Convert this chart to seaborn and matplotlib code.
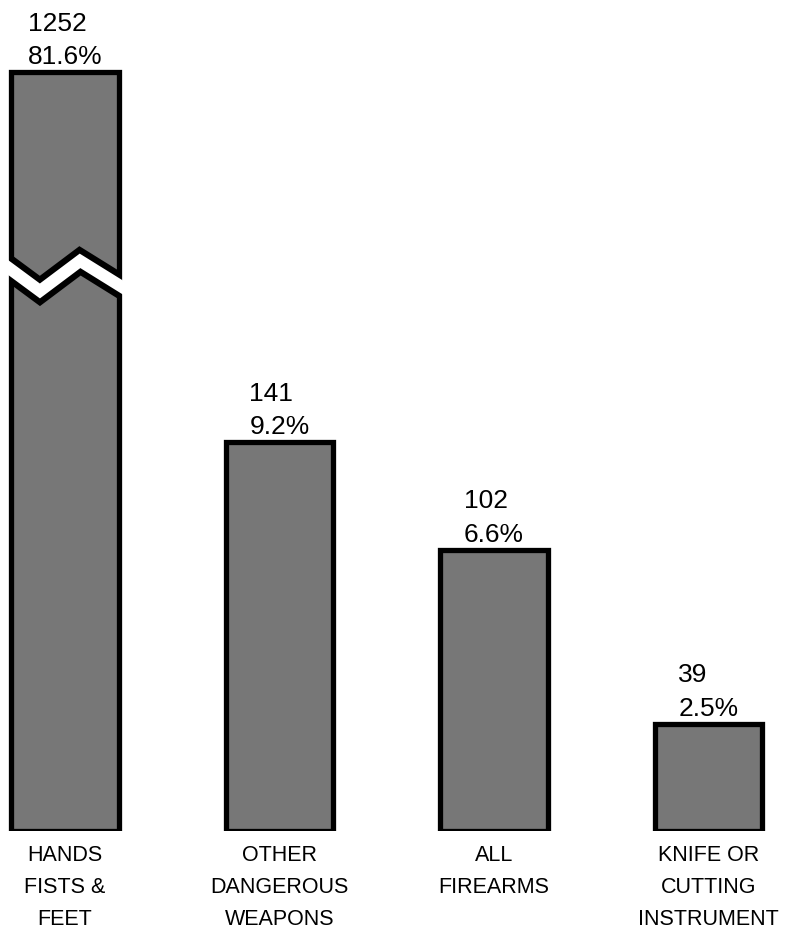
import pandas as pd
import matplotlib.pyplot as plt
from matplotlib.lines import Line2D
import seaborn as sns

sns.set_theme(style='white')
plt.rcParams['font.family'] = ['Liberation Sans', 'DejaVu Sans']

weapons = ["HANDS\nFISTS &\nFEET", "OTHER\nDANGEROUS\nWEAPONS",
           "ALL\nFIREARMS", "KNIFE OR\nCUTTING\nINSTRUMENT"]
counts = [1252, 141, 102, 39]
percents = [81.6, 9.2, 6.6, 2.5]

df = pd.DataFrame({"weapon": weapons, "count": counts})

GREY = '#777777'
LOW_MAX = 204      # top of the lower panel
HIGH_MIN = 1181    # bottom of the upper panel (broken axis)

fig = plt.figure(figsize=(8.1, 9.31), dpi=100)
low_pos = [0, 0.1069, 1, 0.6052]
high_pos = [0, 0.7121, 1, 0.2449]
low = fig.add_axes(low_pos)
high = fig.add_axes(high_pos)

for ax in (low, high):
    sns.barplot(data=df, x="weapon", y="count", color=GREY, saturation=1,
                edgecolor='black', linewidth=3.8, width=0.5, ax=ax)
    ax.set_xlim(-0.303, 3.473)
    ax.set_xlabel('')
    ax.set_ylabel('')
    ax.set_yticks([])
    sns.despine(ax=ax, left=True, bottom=True)

# same scale in both panels
low.set_ylim(0, LOW_MAX)
high.set_ylim(HIGH_MIN, HIGH_MIN + LOW_MAX * high_pos[3] / low_pos[3])
high.set_xticks([])

low.set_xticks(range(len(weapons)), labels=weapons, fontsize=15.5,
               linespacing=1.68)
low.tick_params(axis='x', length=0, pad=10, colors='black')

# value labels
for i, (c, p) in enumerate(zip(counts, percents)):
    ax = high if c > LOW_MAX else low
    bar = ax.patches[i]
    ax.annotate(f"{c}\n{p}%", (bar.get_x() + bar.get_width() / 2, bar.get_height()),
                xytext=(0, 2), textcoords='offset points',
                ha='center', va='bottom', multialignment='left',
                fontsize=19, linespacing=1.5, color='black')

# zigzag break on the tall bar
zig_x = [-0.30, -0.117, 0.07, 0.30]
zig_y = [LOW_MAX + d for d in (2.2, -8.3, 2.6, -8.5)]
edge = Line2D(zig_x, zig_y, color='black', lw=17.5, solid_joinstyle='miter',
              solid_capstyle='butt', transform=low.transData)
fig.add_artist(edge)
edge.set_clip_path(low.patches[0])
gap = Line2D(zig_x, zig_y, color='white', lw=8.6, solid_joinstyle='miter',
             solid_capstyle='butt', transform=low.transData)
fig.add_artist(gap)

fig.savefig('out.png', dpi=100)
